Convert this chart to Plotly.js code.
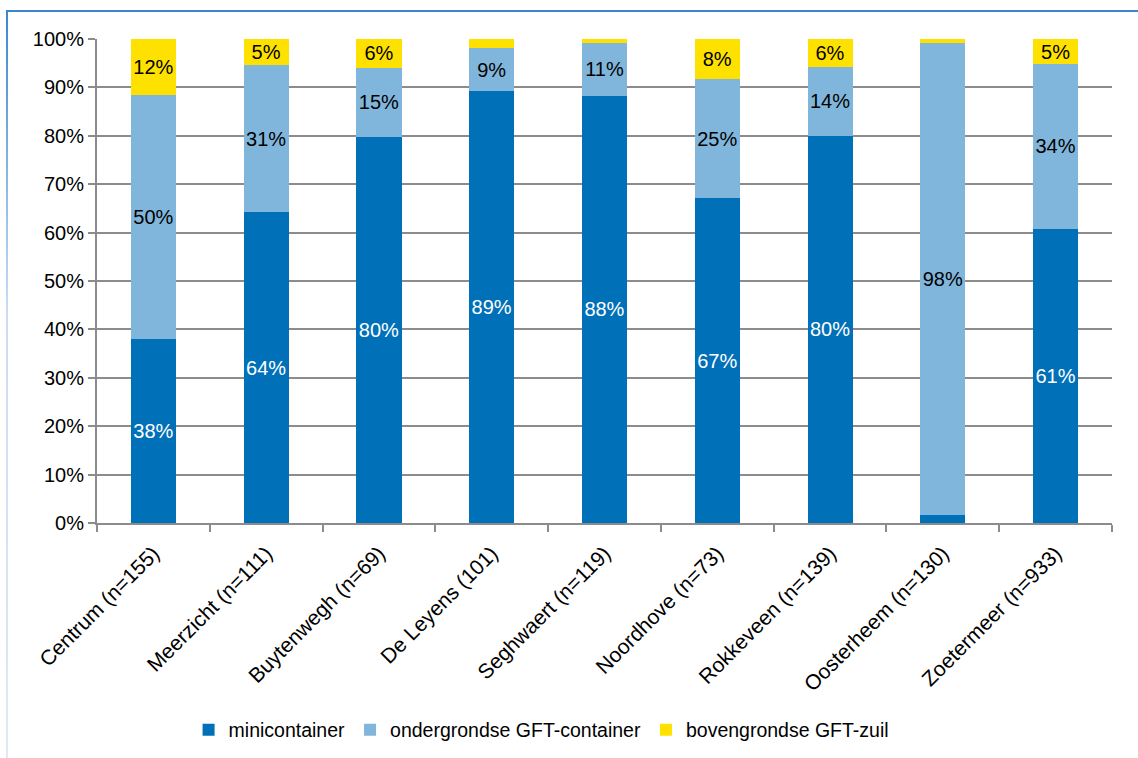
<!DOCTYPE html>
<html>
<head>
<meta charset="utf-8">
<script src="https://cdn.plot.ly/plotly-3.0.1.min.js"></script>
<style>
  html, body { margin: 0; padding: 0; background: #fff; }
  #wrap { position: relative; width: 1138px; height: 758px; overflow: hidden; }
  #chart { position: absolute; left: 0; top: 0; width: 1138px; height: 758px; }
  #frameTop { position: absolute; left: 6px; top: 10px; width: 1132px; height: 2px; background: #3a87d0; z-index: 2; }
  #frameLeft { position: absolute; left: 6px; top: 10px; width: 2px; height: 748px; background: linear-gradient(#3a87d0, #c9dcf3 40%, #dfe9f8); z-index: 2; }
</style>
</head>
<body>
<div id="wrap">
  <div id="chart"></div>
  <div id="frameTop"></div>
  <div id="frameLeft"></div>
</div>
<script>
const categories = ["Centrum (n=155)", "Meerzicht (n=111)", "Buytenwegh (n=69)", "De Leyens (101)", "Seghwaert (n=119)", "Noordhove (n=73)", "Rokkeveen (n=139)", "Oosterheem (n=130)", "Zoetermeer (n=933)"];
const seriesNames = ["minicontainer", "ondergrondse GFT-container", "bovengrondse GFT-zuil"];
const minicontainer = [38.0, 64.2, 79.8, 89.2, 88.3, 67.1, 80.0, 1.6, 60.8];
const ondergrondse = [50.4, 30.4, 14.3, 8.9, 10.9, 24.6, 14.2, 97.5, 34.0];
const bovengrondse = [11.6, 5.4, 5.9, 1.9, 0.8, 8.3, 5.8, 0.9, 5.2];
const labelsMini = ["38%", "64%", "80%", "89%", "88%", "67%", "80%", "", "61%"];
const labelsOnder = ["50%", "31%", "15%", "9%", "11%", "25%", "14%", "98%", "34%"];
const labelsBoven = ["12%", "5%", "6%", "", "", "8%", "6%", "", "5%"];
const colors = ["#0070b8", "#80b6dc", "#ffe100"];

const FONT = "Liberation Sans, Arial, sans-serif";

function barTrace(name, values, labels, color, textColor) {
  return {
    type: "bar",
    name: name,
    x: categories,
    y: values,
    text: labels,
    textposition: "inside",
    insidetextanchor: "middle",
    textangle: 0,
    constraintext: "none",
    textfont: { family: FONT, size: 20, color: textColor },
    marker: { color: color, line: { width: 0 } },
    hoverinfo: "skip"
  };
}

const data = [
  barTrace(seriesNames[0], minicontainer, labelsMini, colors[0], "#ffffff"),
  barTrace(seriesNames[1], ondergrondse, labelsOnder, colors[1], "#000000"),
  barTrace(seriesNames[2], bovengrondse, labelsBoven, colors[2], "#000000")
];

const layout = {
  width: 1138,
  height: 758,
  margin: { l: 97, r: 26, t: 39, b: 235, autoexpand: false },
  paper_bgcolor: "rgba(0,0,0,0)",
  plot_bgcolor: "#ffffff",
  barmode: "stack",
  bargap: 0.6,
  showlegend: true,
  font: { family: FONT, size: 21, color: "#000000" },
  xaxis: {
    type: "category",
    tickangle: -45,
    ticks: "outside",
    tickson: "boundaries",
    ticklen: 7,
    tickwidth: 2,
    tickcolor: "#8c8c8c",
    showline: true,
    linecolor: "#8c8c8c",
    linewidth: 2,
    showgrid: false,
    ticklabelstandoff: 8,
    tickfont: { family: FONT, size: 21, color: "#000" }
  },
  yaxis: {
    range: [0, 100],
    dtick: 10,
    ticksuffix: "%",
    ticks: "outside",
    ticklen: 7,
    tickwidth: 2,
    tickcolor: "#8c8c8c",
    showline: true,
    linecolor: "#8c8c8c",
    linewidth: 2,
    showgrid: true,
    gridcolor: "#8c8c8c",
    gridwidth: 2,
    zeroline: false,
    tickfont: { family: FONT, size: 20, color: "#000" }
  },
  legend: {
    orientation: "h",
    x: 0.438,
    xanchor: "center",
    y: -0.428,
    yanchor: "middle",
    font: { family: FONT, size: 19.5, color: "#000" },
    traceorder: "normal",
    itemclick: false
  }
};

Plotly.newPlot("chart", data, layout, { displayModeBar: false, staticPlot: true });
</script>
</body>
</html>
